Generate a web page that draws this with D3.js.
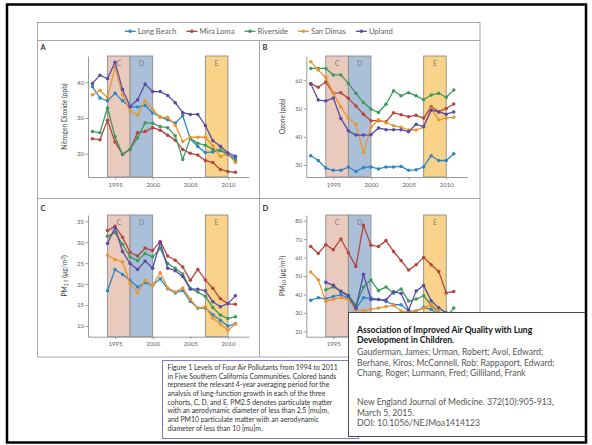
<!DOCTYPE html>
<html>
<head>
<meta charset="utf-8">
<script src="https://cdn.jsdelivr.net/npm/d3@7"></script>
<style>
  html, body { margin: 0; padding: 0; background: #fff; }
  svg { display: block; }
  text { font-family: Lato, "Open Sans", sans-serif; }
</style>
</head>
<body>
<svg id="chart" width="592" height="445"></svg>
<script>
// ---- data -------------------------------------------------------------
const years = [1992, 1993, 1994, 1995, 1996, 1997, 1998, 1999, 2000, 2001,
               2002, 2003, 2004, 2005, 2006, 2007, 2008, 2009, 2010, 2011];
const sites = ["Long Beach", "Mira Loma", "Riverside", "San Dimas", "Upland"];
const siteColors = ["#2f86c6", "#b5443d", "#3d9a5f", "#e7952f", "#5a4aa5"];
const xTickYears = [1995, 2000, 2005, 2010];

// cohort averaging periods
const bandNames = ["C", "D", "E"];
const bandStart = [1994, 1997, 2007];
const bandEnd = [1997, 2000, 2010];
const bandFill = ["#e9cabd", "#a9c0d8", "#f8d389"];

// Nitrogen dioxide (ppb)
const no2LongBeach = [38.8, 35.6, 34.8, 36.9, 34.8, 33.1, 33.1, 33.5, 31.4, 30.3, 29.5, 28.6, 30.6, 24.2, 22.0, 20.3, 20.5, 20.9, 19.8, 18.6];
const no2MiraLoma  = [24.2, 23.9, 29.4, 23.3, 19.8, 21.2, 25.9, 26.2, 27.3, 26.6, 25.2, 23.8, 21.2, 20.1, 19.6, 18.1, 17.5, 15.6, 15.0, 14.8];
const no2Riverside = [26.2, 25.9, 32.8, 24.8, 19.8, 21.3, 24.4, 28.7, 28.5, 27.6, 27.3, 25.0, 18.4, 24.3, 22.9, 22.4, 21.2, 21.0, 19.8, 17.9];
const no2SanDimas  = [36.5, 37.7, 35.8, 44.2, 36.5, 32.0, 30.8, 34.8, 32.4, 30.2, 30.2, 28.0, 23.4, 24.6, 24.6, 24.6, 22.2, 19.2, 20.1, 17.5];
const no2Upland    = [39.7, 42.0, 41.0, 45.6, 38.0, 33.2, 35.1, 39.5, 37.4, 37.4, 36.3, 34.3, 31.5, 31.0, 31.0, 27.9, 23.6, 22.1, 20.2, 19.3];

// Ozone (ppb)
const o3LongBeach = [33.3, 31.6, 28.9, 28.1, 28.1, 29.3, 27.7, 29.1, 29.3, 28.6, 29.3, 29.3, 29.5, 28.1, 28.3, 29.3, 33.3, 31.6, 31.6, 34.0];
const o3MiraLoma  = [58.8, 57.5, 59.4, 55.4, 55.6, 53.6, 50.9, 48.0, 45.7, 45.7, 45.3, 48.5, 47.8, 47.1, 47.6, 46.6, 50.6, 48.9, 50.0, 51.6];
const o3Riverside = [64.2, 64.2, 64.2, 61.9, 61.9, 58.9, 55.4, 52.1, 49.8, 48.6, 51.5, 56.3, 54.5, 55.6, 54.5, 53.1, 54.8, 55.4, 54.0, 56.6];
const o3SanDimas  = [66.6, 63.6, 61.0, 55.4, 50.6, 46.5, 44.4, 34.4, 43.4, 46.0, 45.0, 43.9, 43.4, 42.4, 42.4, 43.4, 50.1, 46.0, 46.6, 46.9];
const o3Upland    = [58.8, 53.0, 52.7, 53.7, 46.5, 42.1, 40.6, 40.6, 40.7, 43.1, 42.5, 42.5, 42.5, 41.8, 44.4, 43.6, 49.4, 48.8, 48.0, 48.8];

// PM2.5 (ug/m3)
const pm25LongBeach = [null, null, 18.4, 23.5, 22.3, 20.9, 19.3, 20.3, 19.7, 21.3, 18.9, 17.9, 18.5, 15.9, 14.3, 14.3, 12.7, 11.4, 10.0, 10.6];
const pm25MiraLoma  = [null, null, 32.8, 33.8, 31.2, 27.6, 26.7, 28.6, 28.0, 30.2, 26.7, 25.7, 24.1, 20.9, 23.5, 21.0, 19.0, 16.5, 15.3, 15.2];
const pm25Riverside = [null, null, 31.4, 32.3, 29.5, 26.5, 25.6, 27.3, 26.5, 28.5, 24.9, 23.8, 22.4, 19.0, 18.1, 17.1, 14.4, 12.6, 11.8, 12.2];
const pm25SanDimas  = [null, null, 26.9, 25.9, 25.3, 20.1, 17.9, 20.9, 19.7, 22.7, 19.1, 18.1, 19.1, 16.4, 14.2, 14.6, 11.9, 10.5, 9.0, 10.5];
const pm25Upland    = [null, null, 29.7, 33.5, 27.8, 24.9, 23.5, 25.5, 23.8, 29.9, 23.8, 23.2, 21.8, 18.8, 18.8, 18.4, 15.8, 14.6, 15.4, 17.2];

// PM10 (ug/m3)
const pm10LongBeach = [36.9, 38.2, 37.6, 38.9, 39.8, 38.0, 32.3, 38.2, 38.0, 37.3, 36.2, 34.4, 34.4, 31.0, 31.0, 33.0, 32.0, 29.0, 26.0, 27.0];
const pm10MiraLoma  = [66.0, 62.2, 67.0, 64.3, 70.1, 62.6, 55.2, 77.6, 66.7, 66.0, 69.2, 63.3, 58.4, 53.2, 56.1, 60.1, 56.1, 52.5, 40.8, 41.6];
const pm10Riverside = [null, null, 42.5, 44.1, 41.8, 39.6, 34.2, 44.1, 47.8, 42.1, 44.1, 40.7, 43.0, 36.4, 37.5, 39.3, 34.2, 30.0, 27.5, 32.6];
const pm10SanDimas  = [52.2, 48.0, 36.2, 37.4, 38.2, 37.3, 31.4, 31.3, 32.0, 32.6, 33.4, 34.1, 31.0, 30.5, 31.0, 32.5, 34.5, 31.0, 27.0, 28.0];
const pm10Upland    = [null, null, 46.6, 45.0, 41.5, 39.1, 32.5, 51.0, 37.2, 37.2, 37.0, 41.5, 40.5, 31.5, 41.8, 44.9, 36.6, 32.8, 30.0, 29.0];

const no2Ticks = [20, 30, 40];
const o3Ticks = [30, 40, 50, 60];
const pm25Ticks = [10, 15, 20, 25, 30, 35];
const pm10Ticks = [20, 30, 40, 50, 60, 70, 80];

const captionLines = [
  "Figure 1 Levels of Four Air Pollutants from 1994 to 2011",
  "in Five Southern California Communities. Colored bands",
  "represent the relevant 4-year averaging period for the",
  "analysis of lung-function growth in each of the three",
  "cohorts, C, D, and E. PM2.5 denotes particulate matter",
  "with an aerodynamic diameter of less than 2.5 [mu]m,",
  "and PM10 particulate matter with an aerodynamic",
  "diameter of less than 10 [mu]m."
];
const citationTitle = [
  "Association of Improved Air Quality with Lung",
  "Development in Children."
];
const citationAuthors = [
  "Gauderman, James; Urman, Robert; Avol, Edward;",
  "Berhane, Kiros; McConnell, Rob; Rappaport, Edward;",
  "Chang, Roger; Lurmann, Fred; Gilliland,  Frank"
];
const citationSource = [
  "New England Journal of Medicine.  372(10):905-913,",
  "March 5, 2015.",
  "DOI: 10.1056/NEJMoa1414123"
];

// ---- layout -----------------------------------------------------------
const svg = d3.select("#chart");
const axisGrey = "#9a9a9a";
const labelGrey = "#5e5e5e";

// citation card area (drawn last, on top of panel D's lower right)
const card = { x: 348.5, y: 312.5, w: 237.5, h: 124 };

const panels = [
  { letter: "A", series: [no2LongBeach, no2MiraLoma, no2Riverside, no2SanDimas, no2Upland],
    ticks: no2Ticks, domain: [13.47, 47.37],
    label: [{ t: "Nitrogen Dioxide (ppb)" }],
    x0: 88, x1: 249, yTop: 56, yBot: 177, lx: 40.5, ly: 49.5 },
  { letter: "B", series: [o3LongBeach, o3MiraLoma, o3Riverside, o3SanDimas, o3Upland],
    ticks: o3Ticks, domain: [25.75, 68.6],
    label: [{ t: "Ozone (ppb)" }],
    x0: 306.3, x1: 467.3, yTop: 56, yBot: 177, lx: 262.5, ly: 49.5 },
  { letter: "C", series: [pm25LongBeach, pm25MiraLoma, pm25Riverside, pm25SanDimas, pm25Upland],
    ticks: pm25Ticks, domain: [7.45, 36.5],
    label: [{ t: "PM" }, { t: "2.5", sub: true }, { t: " (\u00b5g/m" }, { t: "3", sup: true }, { t: ")" }],
    x0: 88, x1: 249, yTop: 215, yBot: 336.7, lx: 40.5, ly: 210.5 },
  { letter: "D", series: [pm10LongBeach, pm10MiraLoma, pm10Riverside, pm10SanDimas, pm10Upland],
    ticks: pm10Ticks, domain: [17.07, 83.1],
    label: [{ t: "PM" }, { t: "10", sub: true }, { t: " (\u00b5g/m" }, { t: "3", sup: true }, { t: ")" }],
    x0: 306.3, x1: 467.3, yTop: 215, yBot: 336.7, lx: 262.5, ly: 210.5 }
];

// figure frame: legend strip plus 2x2 panel grid
const fig = svg.append("g");
fig.append("rect").attr("x", 37.5).attr("y", 22.5).attr("width", 442.5).attr("height", 334.5)
  .attr("fill", "#fff").attr("stroke", "#a8a8a8").attr("stroke-width", 1);
fig.append("line").attr("x1", 37.5).attr("x2", 480).attr("y1", 40.5).attr("y2", 40.5)
  .attr("stroke", "#a8a8a8");
fig.append("line").attr("x1", 259.5).attr("x2", 259.5).attr("y1", 40.5).attr("y2", 357)
  .attr("stroke", "#a8a8a8");
fig.append("line").attr("x1", 37.5).attr("x2", 480).attr("y1", 198.5).attr("y2", 198.5)
  .attr("stroke", "#a8a8a8");

// legend
const legend = fig.append("g");
let lxPos = 0;
sites.forEach((name, i) => {
  const item = legend.append("g").attr("transform", `translate(${lxPos},0)`);
  item.append("line").attr("x1", 0).attr("x2", 11).attr("y1", 0).attr("y2", 0)
    .attr("stroke", siteColors[i]).attr("stroke-width", 1.3);
  item.append("circle").attr("cx", 5.5).attr("cy", 0).attr("r", 1.8).attr("fill", siteColors[i]);
  const t = item.append("text").attr("x", 13).attr("y", 0).attr("dy", "0.35em")
    .attr("font-size", 7.6).attr("fill", labelGrey).text(name);
  lxPos += 13 + t.node().getComputedTextLength() + 10;
});
const legendWidth = lxPos - 10;
legend.attr("transform", `translate(${(37.5 + 480 - legendWidth) / 2},31.3)`);

// panels
panels.forEach(p => {
  const g = svg.append("g");
  const x = d3.scaleLinear().domain([1991.41, 2012.8]).range([p.x0, p.x1]);
  const y = d3.scaleLinear().domain(p.domain).range([p.yBot, p.yTop]);

  // cohort bands
  bandNames.forEach((b, i) => {
    g.append("rect")
      .attr("x", x(bandStart[i])).attr("y", p.yTop)
      .attr("width", x(bandEnd[i]) - x(bandStart[i])).attr("height", p.yBot - p.yTop)
      .attr("fill", bandFill[i]).attr("stroke", "#8d8d8d").attr("stroke-width", 0.9);
    g.append("text")
      .attr("x", (x(bandStart[i]) + x(bandEnd[i])) / 2).attr("y", p.yTop + 7.5)
      .attr("text-anchor", "middle").attr("dy", "0.35em")
      .attr("font-size", 7).attr("fill", "#7d7d7d").text(b);
  });

  // axes; year labels that sit under the citation card are left out
  const visibleYears = xTickYears.filter(yr =>
    !(p.yBot > card.y && x(yr) > card.x - 6));
  const xAxis = d3.axisBottom(x).tickValues(xTickYears)
    .tickFormat(yr => visibleYears.includes(yr) ? d3.format("d")(yr) : "")
    .tickSizeInner(2.5).tickSizeOuter(0).tickPadding(3);
  const yAxis = d3.axisLeft(y).tickValues(p.ticks).tickSizeInner(2.5).tickSizeOuter(0).tickPadding(1.5);
  const gx = g.append("g").attr("transform", `translate(0,${p.yBot})`).call(xAxis);
  const gy = g.append("g").attr("transform", `translate(${p.x0},0)`).call(yAxis);
  gx.selectAll(".tick text").filter(function () { return this.textContent === ""; }).remove();
  [gx, gy].forEach(a => {
    a.select(".domain").attr("stroke", axisGrey).attr("stroke-width", 1);
    a.selectAll(".tick line").attr("stroke", axisGrey);
    a.selectAll(".tick text").attr("fill", labelGrey).attr("font-size", 6)
      .attr("font-family", "Lato, sans-serif");
  });

  // y-axis title
  const yl = g.append("text")
    .attr("transform", `translate(${p.x0 - 23.5},${(p.yTop + p.yBot) / 2}) rotate(-90)`)
    .attr("text-anchor", "middle").attr("dy", "0.35em")
    .attr("font-size", 6.7).attr("fill", "#444");
  p.label.forEach(part => {
    const ts = yl.append("tspan").text(part.t);
    if (part.sub) ts.attr("font-size", 4.8).attr("baseline-shift", "-25%");
    if (part.sup) ts.attr("font-size", 4.8).attr("baseline-shift", "45%");
  });

  // panel letter
  g.append("text").attr("x", p.lx).attr("y", p.ly)
    .attr("font-size", 7.5).attr("font-weight", "bold").attr("fill", "#333").text(p.letter);

  // series
  const line = d3.line()
    .defined(d => d.v != null)
    .x(d => x(d.year)).y(d => y(d.v));
  p.series.forEach((vals, si) => {
    const pts = years.map((yr, k) => ({ year: yr, v: vals[k] }));
    g.append("path").datum(pts).attr("d", line)
      .attr("fill", "none").attr("stroke", siteColors[si]).attr("stroke-width", 1.3)
      .attr("stroke-linejoin", "round");
    g.selectAll(null).data(pts.filter(d => d.v != null)).join("circle")
      .attr("cx", d => x(d.year)).attr("cy", d => y(d.v)).attr("r", 1.75)
      .attr("fill", siteColors[si]);
  });
});

// caption box
const cap = svg.append("g");
cap.append("rect").attr("x", 162.5).attr("y", 360.5).attr("width", 196).attr("height", 78)
  .attr("fill", "#fff").attr("stroke", "#7a7ad2").attr("stroke-width", 1);
cap.selectAll(null).data(captionLines).join("text")
  .attr("x", 167.5).attr("y", (d, i) => 369.8 + i * 8.7)
  .attr("font-size", 6.9).attr("fill", "#333").text(d => d);

// citation card
const cit = svg.append("g");
cit.append("rect").attr("x", card.x).attr("y", card.y).attr("width", card.w).attr("height", card.h)
  .attr("fill", "#fff").attr("stroke", "#4a4a4a").attr("stroke-width", 1);
cit.selectAll(null).data(citationTitle).join("text")
  .attr("x", 357).attr("y", (d, i) => 333 + i * 10.2)
  .attr("font-size", 8.6).attr("font-weight", "bold").attr("fill", "#111").text(d => d);
cit.selectAll(null).data(citationAuthors).join("text")
  .attr("x", 357).attr("y", (d, i) => 355.3 + i * 10.4)
  .attr("font-size", 8.6).attr("fill", "#555").text(d => d);
cit.selectAll(null).data(citationSource).join("text")
  .attr("x", 357).attr("y", (d, i) => 405.3 + i * 10.2)
  .attr("font-size", 8.6).attr("fill", "#555").text(d => d);

// outer slide frame
svg.append("rect").attr("x", 7).attr("y", 4.5).attr("width", 579).attr("height", 438)
  .attr("fill", "none").attr("stroke", "#000").attr("stroke-width", 2.5);
</script>
</body>
</html>
